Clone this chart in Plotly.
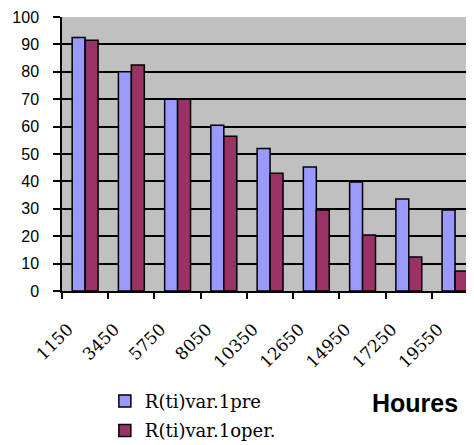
import plotly.graph_objects as go

categories = ["1150", "3450", "5750", "8050", "10350", "12650", "14950", "17250", "19550"]
series_pre = [92.5, 80, 70, 60.5, 52, 45.3, 39.8, 33.6, 29.6]
series_oper = [91.5, 82.5, 70, 56.5, 43, 29.6, 20.4, 12.4, 7.3]
y_ticks = [0, 10, 20, 30, 40, 50, 60, 70, 80, 90, 100]

fig = go.Figure()
fig.add_trace(go.Bar(x=categories, y=series_pre, name="R(ti)var.1pre", legendgroup="a",
                     marker=dict(color="#9999FF", line=dict(color="black", width=1.5))))
fig.add_trace(go.Bar(x=categories, y=series_oper, name="R(ti)var.1oper.", legendgroup="b",
                     marker=dict(color="#993366", line=dict(color="black", width=1.5))))

fig.update_layout(
    width=466, height=437,
    margin=dict(l=54, r=0, t=9, b=154, autoexpand=False),
    paper_bgcolor="white", plot_bgcolor="#C0C0C0",
    barmode="group", bargap=0.44, bargroupgap=0,
    showlegend=True,
    legend=dict(x=0.104, y=-0.335,
                xanchor="left", yanchor="top",
                font=dict(family="DejaVu Serif", size=18, color="black"),
                bgcolor="rgba(0,0,0,0)", tracegroupgap=3, itemwidth=30),
    annotations=[dict(text="<b>Houres</b>", xref="paper", yref="paper",
                      x=0.857, y=-0.41, xanchor="center", yanchor="middle",
                      showarrow=False,
                      font=dict(family="Liberation Sans", size=25, color="black"))],
)
fig.update_xaxes(type="category", range=[-0.5, 8.41], tickson="boundaries",
                 ticks="outside", ticklen=6, tickcolor="black", tickwidth=1.5,
                 showline=True, linecolor="black", linewidth=1.5,
                 tickangle=-45, showgrid=False, automargin=False,
                 ticklabelstandoff=20, ticklabelshift=-17,
                 tickfont=dict(family="DejaVu Serif", size=17, color="black"))
fig.update_yaxes(range=[0, 100], tickvals=y_ticks, ticks="outside", ticklen=7,
                 tickcolor="black", tickwidth=1.5, automargin=False,
                 showline=True, linecolor="black", linewidth=1.5,
                 ticklabelstandoff=11, ticklabeloverflow="allow",
                 showgrid=True, gridcolor="black", gridwidth=1.5, zeroline=False,
                 tickfont=dict(family="Liberation Sans", size=16, color="black"))

fig.write_html("out.html")
